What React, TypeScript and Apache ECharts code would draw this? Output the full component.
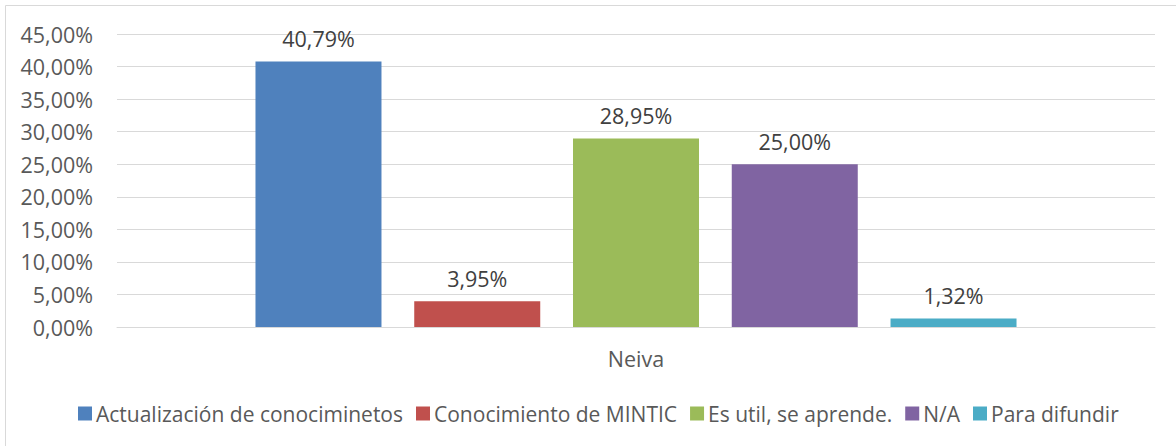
import React, { useEffect, useRef } from "react";
import * as echarts from "echarts";

const categories = ["Neiva"];
const seriesNames = [
  "Actualización de conociminetos",
  "Conocimiento de MINTIC",
  "Es util, se aprende.",
  "N/A",
  "Para difundir",
];
const seriesValues = [40.79, 3.95, 28.95, 25.0, 1.32];
const seriesColors = ["#4F81BD", "#C0504D", "#9BBB59", "#8064A2", "#4BACC6"];
const yTicks = { min: 0, max: 45, interval: 5 };

const FONT = "'Open Sans', sans-serif";
const FS = 21.5;
const fmt = (v: number) => v.toFixed(2).replace(".", ",") + "%";

export default function App() {
  const ref = useRef<HTMLDivElement>(null);
  useEffect(() => {
    if (!ref.current) return;
    const chart = echarts.init(ref.current, undefined, { renderer: "svg" });
    chart.setOption({
      animation: false,
      backgroundColor: "#ffffff",
      textStyle: { fontFamily: FONT },
      graphic: [
        {
          type: "rect",
          shape: { x: 5.5, y: 5.5, width: 1180, height: 450 },
          style: { fill: "none", stroke: "#d9d9d9", lineWidth: 1 },
          silent: true,
        },
      ],
      grid: { left: 117, right: 21, top: 34, bottom: 119, containLabel: false },
      legend: {
        data: seriesNames,
        left: 73,
        top: 398,
        icon: "rect",
        itemWidth: 14,
        itemHeight: 14,
        itemGap: 13,
        textStyle: { fontFamily: FONT, fontSize: 21, color: "#595959", padding: [0, 0, 0, -1] },
      },
      xAxis: {
        type: "category",
        data: categories,
        axisLine: { lineStyle: { color: "#d9d9d9", width: 1 } },
        axisTick: { show: false },
        axisLabel: { color: "#595959", fontSize: FS, fontFamily: FONT, margin: 20 },
      },
      yAxis: {
        type: "value",
        min: yTicks.min,
        max: yTicks.max,
        interval: yTicks.interval,
        axisLine: { show: false },
        axisTick: { show: false },
        splitLine: { lineStyle: { color: "#d9d9d9", width: 1 } },
        axisLabel: {
          color: "#595959",
          fontSize: FS,
          fontFamily: FONT,
          margin: 24,
          formatter: (v: number) => fmt(v),
        },
      },
      series: seriesNames.map((name, i) => ({
        name,
        type: "bar",
        data: [seriesValues[i]],
        barWidth: 126,
        barGap: "26%",
        itemStyle: { color: seriesColors[i] },
        label: {
          show: true,
          position: "top",
          distance: 12,
          color: "#404040",
          fontSize: FS,
          fontFamily: FONT,
          formatter: (p: any) => fmt(p.value),
        },
      })),
    });
    return () => chart.dispose();
  }, []);
  return (
    <div
      ref={ref}
      style={{ position: "absolute", left: 0, top: 0, width: 1176, height: 446 }}
    />
  );
}
